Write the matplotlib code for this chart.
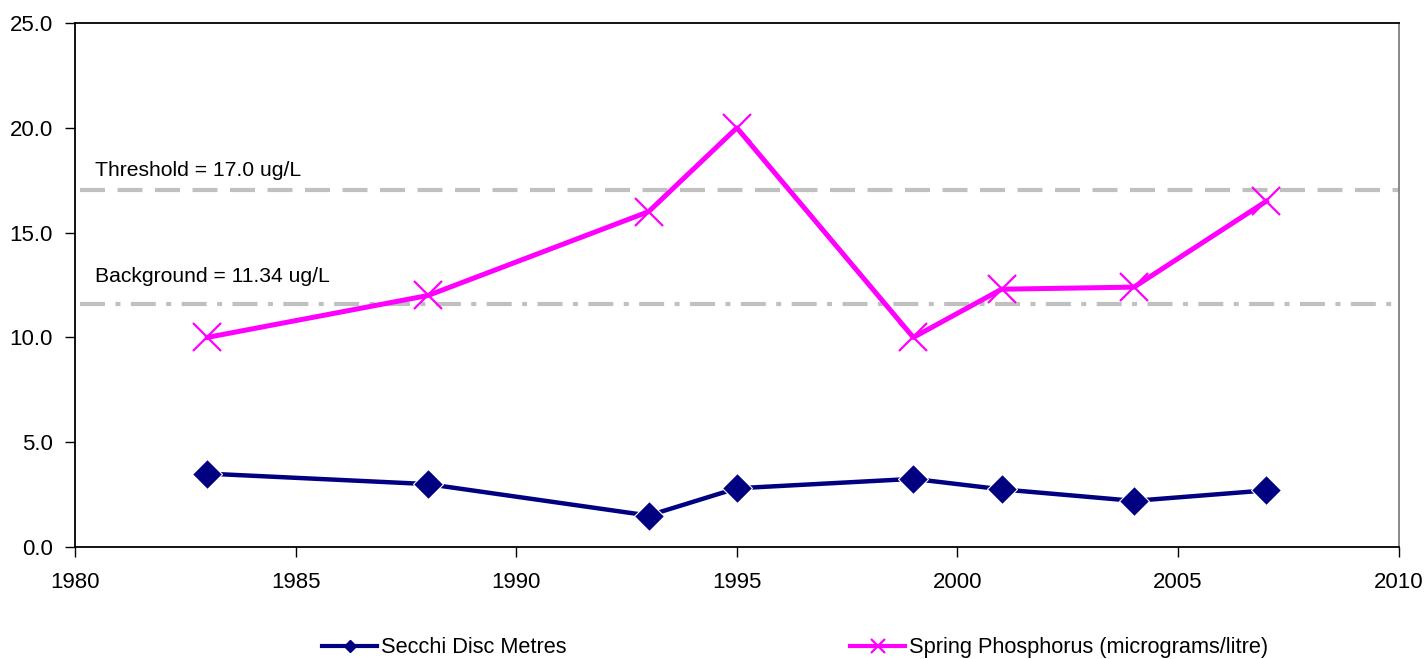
import matplotlib.pyplot as plt
from matplotlib.lines import Line2D

years_secchi = [1983, 1988, 1993, 1995, 1999, 2001, 2004, 2007]
secchi = [3.5, 3.0, 1.5, 2.8, 3.25, 2.75, 2.2, 2.7]

years_phos = [1983, 1988, 1993, 1995, 1999, 2001, 2004, 2007]
phosphorus = [10.0, 12.0, 16.0, 20.0, 10.0, 12.3, 12.4, 16.5]

threshold = 17.05
background = 11.6

plt.rcParams['font.family'] = ['Liberation Sans', 'DejaVu Sans']

fig = plt.figure(figsize=(14.28, 6.59), dpi=100)
ax = fig.add_axes([0.0525, 0.170, 0.927, 0.795])

navy = '#000080'
magenta = '#FF00FF'
grey = '#C0C0C0'

ax.axhline(threshold, xmin=0.004, color=grey, lw=3, dashes=(6, 3), zorder=1)
ax.axhline(background, xmin=0.004, color=grey, lw=3, dashes=(6, 2.5, 1.2, 2.5), zorder=1)

ax.plot(years_secchi, secchi, color=navy, lw=3.2, marker='D', ms=15,
        mec='white', mew=0.8, zorder=3)
ax.plot(years_phos, phosphorus, color=magenta, lw=3.6, marker='x', ms=20,
        mew=1.6, zorder=3)

ax.text(1980.45, 17.95, 'Threshold = 17.0 ug/L', fontsize=15.2, va='center')
ax.text(1980.45, 12.9, 'Background = 11.34 ug/L', fontsize=15.2, va='center')

ax.set_xlim(1980, 2010)
ax.set_ylim(0, 25)
ax.set_xticks(range(1980, 2011, 5))
ax.set_yticks([0, 5, 10, 15, 20, 25])
ax.set_yticklabels(['%.1f' % v for v in [0, 5, 10, 15, 20, 25]])
ax.tick_params(labelsize=16, direction='out', length=7, width=1)
ax.tick_params(axis='x', pad=11)
ax.tick_params(axis='y', pad=9)

ax.spines['right'].set_color('#808080')
for s in ['left', 'bottom', 'top']:
    ax.spines[s].set_color('black')
for s in ax.spines.values():
    s.set_linewidth(1.3)

handles = [
    Line2D([], [], color=navy, lw=3, marker='D', ms=6),
    Line2D([], [], color=magenta, lw=3, marker='x', ms=10, mew=1.6),
]
fig.legend(handles, ['Secchi Disc Metres', 'Spring Phosphorus (micrograms/litre)'],
           loc='center', bbox_to_anchor=(0.557, 0.017), ncol=2, frameon=False,
           fontsize=15.7, handlelength=2.5, handletextpad=0.2, columnspacing=13.0)

fig.savefig('out.png', dpi=100)
